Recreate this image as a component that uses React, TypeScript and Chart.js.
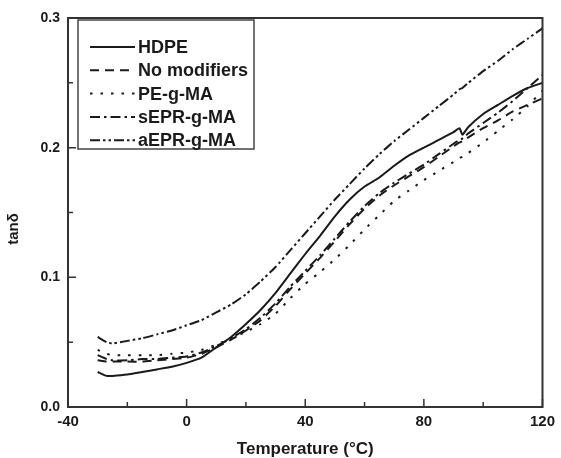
import React, { useEffect, useRef } from "react";
import { Chart, registerables } from "chart.js";

Chart.register(...registerables);

const temps = [-30, -27, -25, -20, -15, -10, -5, 0, 5, 10, 15, 20, 25, 30, 35, 40, 45, 50, 55, 60, 65, 70, 75, 80, 85, 90, 92, 93, 95, 100, 105, 110, 115, 120];

const hdpe = [0.027, 0.024, 0.024, 0.025, 0.027, 0.029, 0.031, 0.034, 0.038, 0.046, 0.054, 0.064, 0.075, 0.088, 0.103, 0.118, 0.132, 0.147, 0.160, 0.170, 0.177, 0.186, 0.194, 0.200, 0.206, 0.212, 0.215, 0.210, 0.216, 0.226, 0.233, 0.240, 0.246, 0.250];
const noModifiers = [0.036, 0.035, 0.035, 0.035, 0.035, 0.036, 0.037, 0.038, 0.041, 0.046, 0.052, 0.059, 0.067, 0.078, 0.091, 0.103, 0.115, 0.128, 0.141, 0.153, 0.163, 0.171, 0.178, 0.185, 0.193, 0.201, 0.204, 0.205, 0.208, 0.215, 0.221, 0.228, 0.233, 0.238];
const peGMA = [0.044, 0.041, 0.040, 0.040, 0.040, 0.040, 0.041, 0.042, 0.044, 0.048, 0.053, 0.058, 0.064, 0.072, 0.084, 0.095, 0.104, 0.114, 0.125, 0.137, 0.148, 0.159, 0.167, 0.175, 0.182, 0.189, 0.192, 0.193, 0.196, 0.204, 0.213, 0.222, 0.232, 0.244];
const sEPR = [0.040, 0.037, 0.036, 0.036, 0.037, 0.037, 0.038, 0.039, 0.042, 0.047, 0.053, 0.060, 0.069, 0.080, 0.093, 0.105, 0.117, 0.130, 0.143, 0.155, 0.165, 0.173, 0.180, 0.187, 0.195, 0.203, 0.206, 0.207, 0.211, 0.219, 0.227, 0.236, 0.246, 0.256];
const aEPR = [0.054, 0.050, 0.049, 0.051, 0.053, 0.056, 0.059, 0.063, 0.067, 0.073, 0.079, 0.087, 0.097, 0.108, 0.121, 0.134, 0.147, 0.160, 0.172, 0.184, 0.195, 0.205, 0.214, 0.223, 0.232, 0.241, 0.245, 0.246, 0.250, 0.259, 0.267, 0.276, 0.284, 0.292];

const seriesNames = ["HDPE", "No modifiers", "PE-g-MA", "sEPR-g-MA", "aEPR-g-MA"];
const seriesValues = [hdpe, noModifiers, peGMA, sEPR, aEPR];
const dashes: number[][] = [[], [9, 6], [2.5, 8], [10, 4, 2.5, 4], [10, 3, 2.5, 3, 2.5, 3]];

const xTicks = [-40, 0, 40, 80, 120];
const xMinor = [-20, 20, 60, 100];
const yTicks = [0, 0.1, 0.2, 0.3];
const yMinor = [0.05, 0.15, 0.25];

const xTitle = "Temperature (°C)";
const yTitle = "tanδ";

const INK = "#1a1a1a";
const FONT = "'Liberation Sans', Arial, sans-serif";

const decorPlugin = {
  id: "decor",
  afterDraw(chart: any) {
    const { ctx, chartArea: a, scales } = chart;
    const xs = scales.x;
    const ys = scales.y;
    ctx.save();
    ctx.strokeStyle = "#333";
    ctx.lineWidth = 2;
    ctx.setLineDash([]);
    ctx.strokeRect(a.left, a.top, a.right - a.left, a.bottom - a.top);
    ctx.lineWidth = 1.5;
    ctx.beginPath();
    xTicks.forEach((v) => {
      const px = xs.getPixelForValue(v);
      ctx.moveTo(px, a.bottom);
      ctx.lineTo(px, a.bottom - 8);
    });
    xMinor.forEach((v) => {
      const px = xs.getPixelForValue(v);
      ctx.moveTo(px, a.bottom);
      ctx.lineTo(px, a.bottom - 5);
    });
    yTicks.forEach((v) => {
      const py = ys.getPixelForValue(v);
      ctx.moveTo(a.left, py);
      ctx.lineTo(a.left + 8, py);
    });
    yMinor.forEach((v) => {
      const py = ys.getPixelForValue(v);
      ctx.moveTo(a.left, py);
      ctx.lineTo(a.left + 5, py);
    });
    ctx.stroke();

    ctx.fillStyle = INK;
    ctx.font = `bold 17px ${FONT}`;
    ctx.textAlign = "center";
    ctx.textBaseline = "middle";
    ctx.fillText(xTitle, (a.left + a.right) / 2, 449);
    ctx.save();
    ctx.translate(14, 229);
    ctx.rotate(-Math.PI / 2);
    ctx.font = `bold 15px ${FONT}`;
    ctx.fillText(yTitle, 0, 0);
    ctx.restore();

    const lx0 = a.left + 10;
    const ly0 = a.top + 2;
    const lw = 176;
    const lh = 129;
    ctx.strokeStyle = "#444";
    ctx.lineWidth = 1.5;
    ctx.strokeRect(lx0, ly0, lw, lh);
    ctx.font = `bold 18px ${FONT}`;
    ctx.textAlign = "left";
    ctx.textBaseline = "middle";
    seriesNames.forEach((name, i) => {
      const y = ly0 + 27 + i * 23.3;
      ctx.strokeStyle = INK;
      ctx.lineWidth = 2;
      ctx.setLineDash(dashes[i]);
      ctx.beginPath();
      ctx.moveTo(lx0 + 12, y);
      ctx.lineTo(lx0 + 57, y);
      ctx.stroke();
      ctx.setLineDash([]);
      ctx.fillText(name, lx0 + 60, y + 1);
    });
    ctx.restore();
  },
};

export default function App() {
  const ref = useRef<HTMLCanvasElement | null>(null);
  useEffect(() => {
    if (!ref.current) return;
    const datasets = seriesNames.map((name, i) => ({
      label: name,
      data: temps.map((t, j) => ({ x: t, y: seriesValues[i][j] })),
      borderColor: INK,
      borderWidth: 2,
      borderDash: dashes[i],
      pointRadius: 0,
      tension: 0.15,
      fill: false,
    }));
    const chart = new Chart(ref.current, {
      type: "line",
      data: { datasets },
      options: {
        responsive: false,
        animation: false,
        layout: { padding: { top: 18, right: 13, left: 0, bottom: 0 } },
        plugins: { legend: { display: false }, tooltip: { enabled: false } },
        scales: {
          x: {
            type: "linear",
            min: -40,
            max: 120,
            afterBuildTicks: (s: any) => {
              s.ticks = xTicks.map((v) => ({ value: v }));
            },
            afterFit: (s: any) => {
              s.height = 51;
            },
            grid: { display: false, drawTicks: false },
            border: { display: false },
            ticks: {
              padding: 6,
              color: INK,
              font: { family: FONT, size: 15, weight: "bold" },
              callback: (v: any) => String(v),
            },
          },
          y: {
            type: "linear",
            min: 0,
            max: 0.3,
            afterBuildTicks: (s: any) => {
              s.ticks = yTicks.map((v) => ({ value: v }));
            },
            afterFit: (s: any) => {
              s.width = 68;
            },
            grid: { display: false, drawTicks: false },
            border: { display: false },
            ticks: {
              padding: 8,
              color: INK,
              font: { family: FONT, size: 14, weight: "bold" },
              callback: (v: any) => Number(v).toFixed(1),
            },
          },
        },
      },
      plugins: [decorPlugin],
    } as any);
    return () => chart.destroy();
  }, []);
  return (
    <div style={{ position: "absolute", left: 0, top: 0, width: 561, height: 458, background: "#fff" }}>
      <canvas ref={ref} width={561} height={458} style={{ display: "block", width: 561, height: 458 }} />
    </div>
  );
}
